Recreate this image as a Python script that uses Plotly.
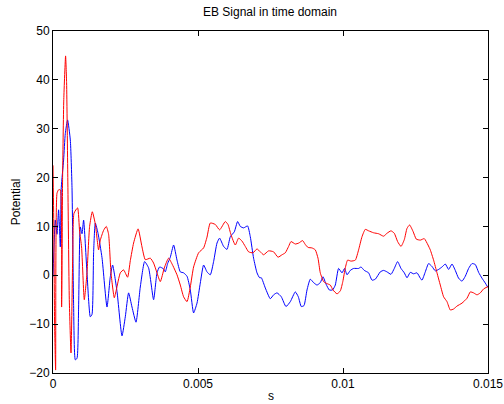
import plotly.graph_objects as go

# time in milliseconds (converted to seconds below), potential values
blue_t_ms = [0, 0.079, 0.138, 0.193, 0.252, 0.286, 0.366, 0.424, 0.503, 0.597, 0.655, 0.710, 0.769, 0.828,
             0.883, 0.941, 1.0, 1.055, 1.172, 1.286, 1.345, 1.40, 1.459, 1.552, 1.69, 1.862, 1.976, 2.055,
             2.207, 2.379, 2.493, 2.607, 2.724, 2.862, 3.01, 3.159, 3.297, 3.469, 3.586, 3.676, 3.814, 3.872,
             3.952, 4.045, 4.159, 4.276, 4.390, 4.503, 4.621, 4.734, 4.848, 4.966, 5.079, 5.193, 5.310, 5.424,
             5.538, 5.655, 5.745, 5.883, 6.0, 6.114, 6.252, 6.366, 6.459, 6.572, 6.710, 6.803, 6.917, 7.034,
             7.124, 7.183, 7.321, 7.493, 7.607, 7.724, 7.872, 8.034, 8.183, 8.355, 8.459, 8.562, 8.655, 8.759,
             8.872, 8.986, 9.103, 9.217, 9.310, 9.414, 9.528, 9.641, 9.734, 9.848, 9.966, 10.055, 10.138,
             10.252, 10.366, 10.538, 10.621, 10.734, 10.883, 11.0, 11.114, 11.286, 11.40, 11.517, 11.655,
             11.769, 11.883, 12.0, 12.114, 12.207, 12.321, 12.434, 12.552, 12.666, 12.724, 12.838, 12.952,
             13.069, 13.183, 13.297, 13.414, 13.528, 13.641, 13.759, 13.872, 13.986, 14.103, 14.217, 14.331,
             14.448, 14.562, 14.676, 14.793, 14.907, 15.0]
blue_v = [-0.3, 11.3, 8.4, 13.4, 5.8, 18, 23.6, 29, 31.8, 27.7, 18, -5.7, -17.3, -17,
          -6.5, 9.9, 8.5, 11.3, 0.5, -8.5, -8.0, 4.6, 10.7, 8.6, 3.6, -6.5, -0.3, 2.1,
          -3.3, -12.4, -8.5, -3.6, -6.5, -9.6, -2.4, 2.8, 1.5, -5, 0.5, 1.7, 1.3, 0.7,
          2.4, 3.7, 6.2, 3.1, 0.7, 0.5, -0.2, -3, -7.7, -5.7, -1.6, 2.1, 0.7, 0.1,
          2.8, 6.6, 7.6, 5.9, 5.3, 7.9, 8.9, 11, 10, 9.7, 10.1, 7.9, 3.5, 0.5,
          -0.5, -0.5, -2.6, -4.8, -4, -3.6, -4.4, -6.4, -5.4, -3.4, -4.4, -6.4, -6.2, -3,
          -0.8, -1.5, -2, -1.5, -0.3, -1.8, -3, -3, -2, 1.4, 0.5, 1.4, 0.1,
          1, 1.4, 1.4, 1.7, 1, 0.5, -1, -0.8, 0.7, 1, 0.7, 0.2,
          1.4, 2.8, 1.4, 0.5, -0.5, 0.6, 0.3, 0.5, -0.6, -1.0, 0.7, 2.4,
          1.8, 0.9, 1.2, 1.7, 2.3, 1.2, 2.3, 1, -0.6, -1.2, -0.2, 1.4,
          2.4, 2.2, 0.6, -0.6, -1.6, -2.5]

red_t_ms = [0, 0.028, 0.055, 0.09, 0.138, 0.193, 0.252, 0.297, 0.331, 0.372, 0.434, 0.469, 0.51, 0.562,
            0.621, 0.683, 0.724, 0.848, 0.917, 0.986, 1.079, 1.172, 1.262, 1.355, 1.459, 1.572, 1.631,
            1.745, 1.838, 1.917, 2.0, 2.114, 2.183, 2.321, 2.434, 2.572, 2.666, 2.779, 2.934, 3.069, 3.183,
            3.355, 3.469, 3.586, 3.70, 3.838, 3.986, 4.131, 4.276, 4.390, 4.503, 4.621, 4.734, 4.848, 5.021,
            5.193, 5.31, 5.424, 5.597, 5.745, 5.941, 6.034, 6.138, 6.286, 6.40, 6.517, 6.631, 6.745, 6.897,
            7.034, 7.148, 7.262, 7.434, 7.607, 7.759, 7.897, 8.01, 8.124, 8.207, 8.355, 8.476, 8.607, 8.70,
            8.793, 8.931, 9.045, 9.138, 9.217, 9.331, 9.448, 9.562, 9.655, 9.793, 9.907, 9.993, 10.079,
            10.159, 10.276, 10.424, 10.538, 10.655, 10.769, 10.883, 11.055, 11.228, 11.40, 11.517, 11.655,
            11.769, 11.883, 12.0, 12.114, 12.207, 12.297, 12.414, 12.528, 12.666, 12.803, 12.931, 13.01,
            13.124, 13.241, 13.355, 13.469, 13.586, 13.70, 13.814, 13.931, 14.103, 14.276, 14.390, 14.503,
            14.621, 14.734, 14.848, 15.0]
red_v = [22.5, 10, -10, -19.4, 16.8, 17.5, 17.5, -6.5, 20, 36, 44.9, 39.4, 20, -5,
         -15.9, 5, 12.7, 13.8, 9, 5.8, -5, 0.5, 10, 13, 10.5, 5.2, 7.2,
         9.2, 10, 8.4, 0.5, -4.6, -3, 0.5, 1.1, -0.4, 3, 6.6, 9.5, 5.8, 3.2,
         3.5, 2.5, 0.5, -1.3, 1.5, 3.5, 2, 0.1, -2, -4.4, -5.4, -2.4, 1.7, 4.6,
         5.6, 7.8, 10.7, 10.4, 9.3, 11, 10.4, 8.3, 6.2, 7.6, 7, 5.9, 4.8, 4.6,
         5.4, 4.8, 4.2, 5, 4.8, 3.7, 4.2, 4.6, 5.9, 6.9, 6.4, 6.6, 7.1, 6.3,
         5.7, 5.6, 5.2, 3.5, 0.5, -1.3, -1.7, -2, -3, -3.8, -3.2, -1.3, 1.5,
         3.1, 2.9, 3.1, 5.2, 7.9, 9.4, 9.1, 8.7, 8.5, 8, 8.6, 9.1,
         8.6, 6.9, 5.9, 7.3, 9.6, 10.3, 9, 7.4, 7.2, 7.5, 6.2, 5.2,
         3.1, 0.5, -2, -4.4, -5.4, -7.1, -6.9, -6.3, -5.7, -4.7, -3.4, -3.6,
         -4, -3.6, -2.8, -2.3]

x_ticks = [0, 0.005, 0.01, 0.015]
x_tick_labels = ["0", "0.005", "0.01", "0.015"]
y_ticks = [-20, -10, 0, 10, 20, 30, 40, 50]

blue_t = [v / 1000 for v in blue_t_ms]
red_t = [v / 1000 for v in red_t_ms]

fig = go.Figure()
fig.add_trace(go.Scatter(x=blue_t, y=blue_v, mode="lines",
                         line=dict(color="#0000ff", width=1, shape="spline", smoothing=0.5),
                         showlegend=False))
fig.add_trace(go.Scatter(x=red_t, y=red_v, mode="lines",
                         line=dict(color="#ff0000", width=1, shape="spline", smoothing=0.5),
                         showlegend=False))

font = dict(family="Liberation Sans, Arial, sans-serif", size=12, color="black")
fig.update_layout(
    width=504, height=404,
    margin=dict(l=53, r=16, t=31, b=31),
    paper_bgcolor="white", plot_bgcolor="white",
    font=font,
    title=dict(text="EB Signal in time domain", x=0.5357, xanchor="center",
               y=1 - 12 / 404, yanchor="middle", font=font),
    xaxis=dict(range=[0, 0.015], tickvals=x_ticks, ticktext=x_tick_labels,
               showgrid=False, zeroline=False, showline=True, linecolor="black",
               linewidth=1, mirror="allticks", ticks="inside", ticklen=5,
               tickcolor="black", automargin=False),
    yaxis=dict(range=[-20, 50], tickvals=y_ticks,
               showgrid=False, zeroline=False, showline=True, linecolor="black",
               linewidth=1, mirror="allticks", ticks="inside", ticklen=5,
               tickcolor="black", title=dict(text="Potential", standoff=6, font=font),
               automargin=False),
    annotations=[dict(text="s", xref="paper", yref="paper", x=0.5, y=-0.066,
                      xanchor="center", yanchor="middle", showarrow=False, font=font)],
)
fig.write_html("out.html")
